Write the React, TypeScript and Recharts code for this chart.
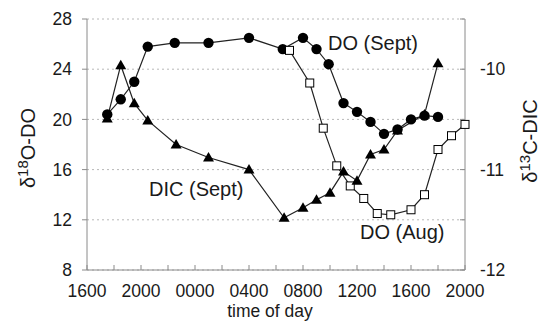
import { CartesianGrid, Customized, Line, LineChart, XAxis, YAxis } from "recharts";

// hours counted from 1600 on day one (0 = 1600, 8 = 0000, 28 = 2000 next day)
const HOUR_TICKS = [0, 2, 4, 6, 8, 10, 12, 14, 16, 18, 20, 22, 24, 26, 28];
const TIME_LABELS = ["1600", "2000", "0000", "0400", "0800", "1200", "1600", "2000"];
const O18_TICKS = [8, 12, 16, 20, 24, 28];
const C13_TICKS = [-12, -11.5, -11, -10.5, -10, -9.5];

// DO (Sept), δ18O-DO
const doSeptHours = [1.5, 2.5, 3.5, 4.5, 6.5, 9, 12, 14.5, 16, 17, 17.9, 19, 20, 21, 22, 23, 24, 25, 26];
const doSeptValues = [20.4, 21.6, 23.0, 25.8, 26.1, 26.1, 26.5, 25.6, 26.5, 25.6, 24.4, 21.3, 20.6, 19.8, 18.85, 19.2, 20.0, 20.3, 20.2];

// DO (Aug), δ18O-DO
const doAugHours = [15, 16.5, 17.5, 18.5, 19.5, 20.5, 21.5, 22.5, 24, 25, 26, 27, 28];
const doAugValues = [25.5, 22.9, 19.3, 16.3, 14.7, 13.7, 12.5, 12.4, 12.8, 14.0, 17.6, 18.7, 19.6];

// DIC (Sept), δ13C-DIC
const dicSeptHours = [1.5, 2.5, 3.5, 4.5, 6.6, 9, 12, 14.6, 16, 17, 18, 19, 20, 21, 22, 23, 25, 26];
const dicSeptValues = [-10.49, -9.96, -10.34, -10.51, -10.75, -10.88, -11.0, -11.48, -11.38, -11.3, -11.23, -11.02, -11.11, -10.85, -10.8, -10.61, -10.45, -9.94];

const toRows = (hours: number[], values: number[]) => hours.map((h, i) => ({ h, v: values[i] }));

const doSept = toRows(doSeptHours, doSeptValues);
const doAug = toRows(doAugHours, doAugValues);
const dicSept = toRows(dicSeptHours, dicSeptValues);

const FONT = "'Liberation Sans', Arial, sans-serif";
const AXIS = "#8a8a8a";
const INK = "#1a1a1a";

function BottomTick({ x, y, payload }: any) {
  const v = payload.value as number;
  return (
    <g>
      <line x1={x} x2={x} y1={y} y2={y - 5} stroke={AXIS} />
      {v % 4 === 0 ? (
        <text x={x} y={y + 21} dy="0.35em" textAnchor="middle" fontSize={17.5} fontFamily={FONT} fill={INK}>
          {TIME_LABELS[v / 4]}
        </text>
      ) : null}
    </g>
  );
}

function TopTick({ x, y }: any) {
  return <line x1={x} x2={x} y1={y} y2={y + 5} stroke={AXIS} />;
}

function LeftTick({ x, y, payload }: any) {
  return (
    <g>
      <line x1={x - 5} x2={x} y1={y} y2={y} stroke={AXIS} />
      <text x={x - 15} y={y} dy="0.35em" textAnchor="end" fontSize={17.5} fontFamily={FONT} fill={INK}>
        {payload.value}
      </text>
    </g>
  );
}

function RightTick({ x, y, payload }: any) {
  const v = payload.value as number;
  return (
    <g>
      <line x1={x} x2={x - 5} y1={y} y2={y} stroke={AXIS} />
      {Number.isInteger(v) ? (
        <text x={x + 15} y={y} dy="0.35em" textAnchor="start" fontSize={17.5} fontFamily={FONT} fill={INK}>
          {v}
        </text>
      ) : null}
    </g>
  );
}

function CircleDot({ cx, cy }: any) {
  return <circle cx={cx} cy={cy} r={5.2} fill="#000" />;
}

function TriangleDot({ cx, cy }: any) {
  return <path d={`M${cx},${cy - 5.5}L${cx + 5.5},${cy + 4}L${cx - 5.5},${cy + 4}Z`} fill="#000" />;
}

function SquareDot({ cx, cy }: any) {
  return <rect x={cx - 4} y={cy - 4} width={8} height={8} fill="#fff" stroke="#000" strokeWidth={1} />;
}

function Annotations() {
  const t = { fontFamily: FONT, fill: INK };
  return (
    <g>
      <text x={328} y={50} fontSize={20} {...t}>DO (Sept)</text>
      <text x={149} y={196} fontSize={20} {...t}>DIC (Sept)</text>
      <text x={360} y={239} fontSize={20} {...t}>DO (Aug)</text>
      <text x={270} y={317} fontSize={17.5} textAnchor="middle" {...t}>time of day</text>
      <text transform="translate(35,148) rotate(-90)" textAnchor="middle" fontSize={20} {...t}>
        δ<tspan fontSize={15} dy={-7}>18</tspan>
        <tspan dy={7}>O-DO</tspan>
      </text>
      <text transform="translate(537,141) rotate(-90)" textAnchor="middle" fontSize={20} {...t}>
        δ<tspan fontSize={15} dy={-7}>13</tspan>
        <tspan dy={7}>C-DIC</tspan>
      </text>
    </g>
  );
}

export default function App() {
  return (
    <div style={{ position: "absolute", left: 0, top: 0, width: 549, height: 322, background: "#fff" }}>
      <LineChart width={549} height={322} margin={{ top: 19, right: 0, bottom: 0, left: 0 }}>
        <CartesianGrid
          xAxisId="bottom"
          yAxisId="left"
          vertical={false}
          stroke="#b8b8b8"
          strokeDasharray="2 3"
        />
        <XAxis
          xAxisId="bottom"
          type="number"
          dataKey="h"
          domain={[0, 28]}
          ticks={HOUR_TICKS}
          interval={0}
          height={52}
          axisLine={{ stroke: AXIS }}
          tickLine={false}
          tickSize={0}
          tickMargin={0}
          tick={BottomTick}
        />
        <XAxis
          xAxisId="top"
          orientation="top"
          type="number"
          dataKey="h"
          domain={[0, 28]}
          ticks={HOUR_TICKS}
          interval={0}
          height={0}
          axisLine={{ stroke: AXIS }}
          tickLine={false}
          tickSize={0}
          tickMargin={0}
          tick={TopTick}
        />
        <YAxis
          yAxisId="left"
          domain={[8, 28]}
          ticks={O18_TICKS}
          interval={0}
          width={87}
          axisLine={{ stroke: AXIS }}
          tickLine={false}
          tickSize={0}
          tickMargin={0}
          tick={LeftTick}
        />
        <YAxis
          yAxisId="right"
          orientation="right"
          domain={[-12, -9.5]}
          ticks={C13_TICKS}
          interval={0}
          width={84}
          axisLine={{ stroke: AXIS }}
          tickLine={false}
          tickSize={0}
          tickMargin={0}
          tick={RightTick}
        />
        <Line
          xAxisId="bottom"
          yAxisId="left"
          data={doSept}
          dataKey="v"
          stroke="#222"
          strokeWidth={1.2}
          dot={CircleDot}
          activeDot={false}
          isAnimationActive={false}
        />
        <Line
          xAxisId="bottom"
          yAxisId="left"
          data={doAug}
          dataKey="v"
          stroke="#222"
          strokeWidth={1.2}
          dot={SquareDot}
          activeDot={false}
          isAnimationActive={false}
        />
        <Line
          xAxisId="bottom"
          yAxisId="right"
          data={dicSept}
          dataKey="v"
          stroke="#222"
          strokeWidth={1.2}
          dot={TriangleDot}
          activeDot={false}
          isAnimationActive={false}
        />
        <Customized component={Annotations} />
      </LineChart>
    </div>
  );
}
